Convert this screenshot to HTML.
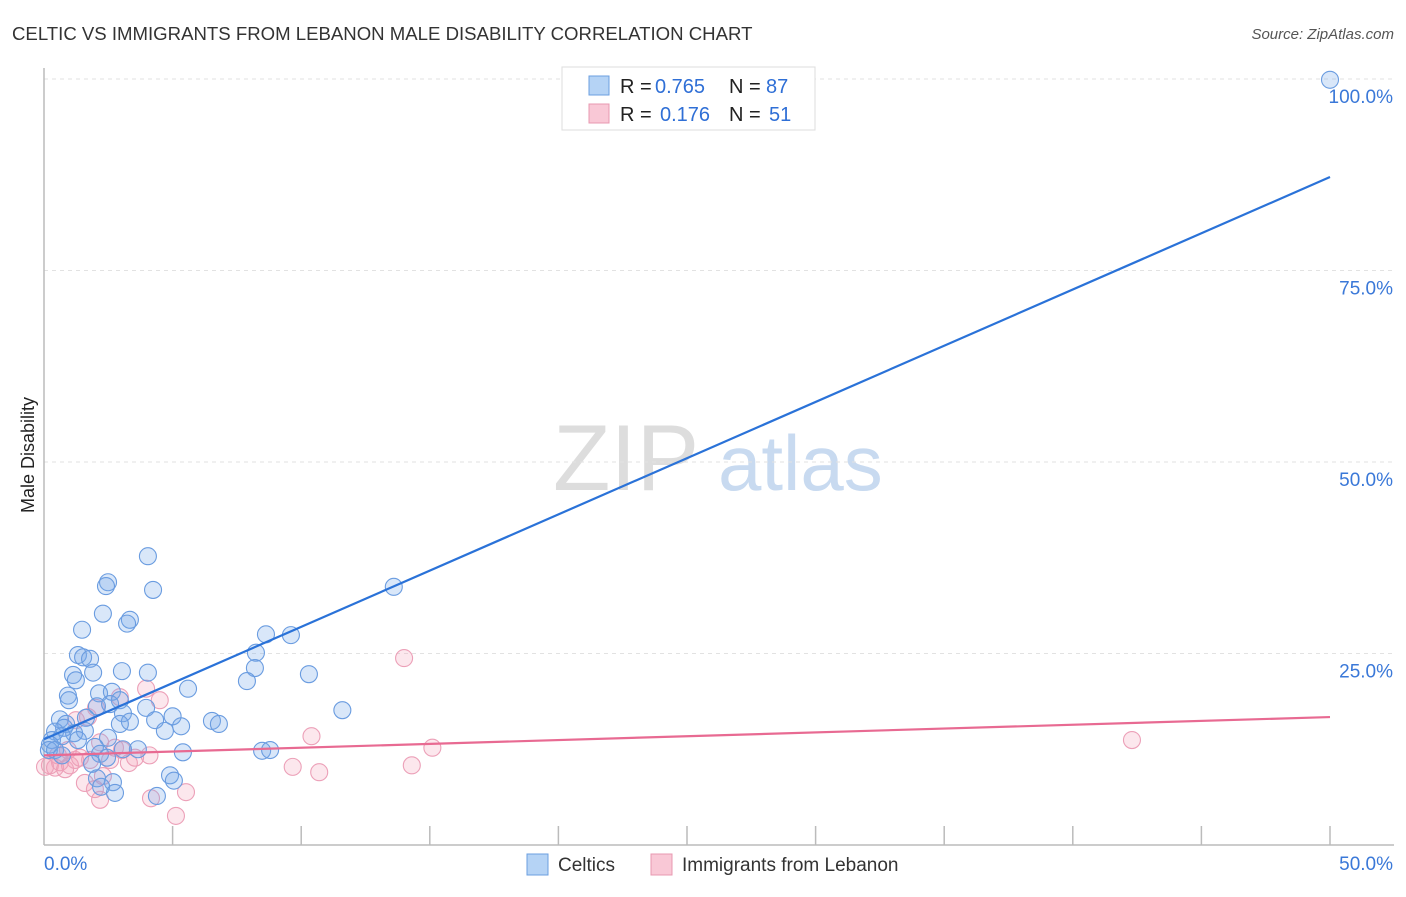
<!DOCTYPE html>
<html><head><meta charset="utf-8"><style>
body{margin:0;background:#fff;font-family:"Liberation Sans",sans-serif;}
svg text{font-family:"Liberation Sans",sans-serif;}
</style></head><body>
<svg id="chart" width="1406" height="892">
<text x="12" y="40" font-size="18.6" fill="#333">CELTIC VS IMMIGRANTS FROM LEBANON MALE DISABILITY CORRELATION CHART</text>
<text x="1394" y="39" font-size="15" fill="#555" font-style="italic" text-anchor="end">Source: ZipAtlas.com</text>
<text x="34" y="455" font-size="18" fill="#222" transform="rotate(-90 34 455)" text-anchor="middle">Male Disability</text>
<g><text x="553" y="490" font-size="94" fill="#ddd" font-family="Liberation Serif">ZIP</text><text x="718" y="490" font-size="78" fill="#c8daf0">atlas</text></g>
<g id="grid"></g><g id="axes"></g><g id="pts"></g><g id="trend"></g>
<g>
<rect x="562" y="67" width="253" height="63" fill="#fff" stroke="#ddd"/>
<rect x="589" y="76" width="20" height="19" fill="#b5d3f5" stroke="#6b9fe0"/>
<rect x="589" y="104" width="20" height="19" fill="#f9c8d6" stroke="#e898b0"/>
<text x="620" y="93" font-size="20" fill="#222">R =</text><text x="655" y="93" font-size="20" fill="#2f6fd6">0.765</text>
<text x="729" y="93" font-size="20" fill="#222">N =</text><text x="766" y="93" font-size="20" fill="#2f6fd6">87</text>
<text x="620" y="121" font-size="20" fill="#222">R =</text><text x="660" y="121" font-size="20" fill="#2f6fd6">0.176</text>
<text x="729" y="121" font-size="20" fill="#222">N =</text><text x="769" y="121" font-size="20" fill="#2f6fd6">51</text>
</g>
<g>
<rect x="527" y="854" width="21" height="21" fill="#b5d3f5" stroke="#6b9fe0"/>
<text x="558" y="871" font-size="19" fill="#333">Celtics</text>
<rect x="651" y="854" width="21" height="21" fill="#f9c8d6" stroke="#e898b0"/>
<text x="682" y="871" font-size="19" fill="#333">Immigrants from Lebanon</text>
</g>
</svg>
<script>
const yTicks=[25,50,75,100];
const yTickLabels=["25.0%","50.0%","75.0%","100.0%"];
const xTickLabels=["0.0%","50.0%"];
const blueX=[50,4.04,4.24,2.49,2.41,13.6,2.29,3.34,3.23,1.48,8.63,9.6,8.24,1.32,1.52,1.79,8.2,1.13,1.24,1.91,3.03,4.04,10.3,7.89,5.6,0.93,0.97,2.14,2.64,2.95,2.06,2.57,3.97,11.6,3.07,1.63,5.0,4.32,6.53,6.8,3.34,2.95,0.62,0.86,0.78,5.33,4.7,0.43,1.17,1.59,0.31,0.7,2.49,1.32,0.23,0.19,1.98,3.65,3.07,5.4,8.48,8.79,2.18,2.45,0.43,4.9,5.05,2.68,2.06,2.22,2.76,4.39,1.87,0.7];
const blueY=[99.9,37.7,33.3,34.3,33.8,33.7,30.2,29.4,28.9,28.1,27.5,27.4,25.1,24.8,24.5,24.3,23.1,22.2,21.5,22.5,22.7,22.5,22.3,21.4,20.4,19.5,18.9,19.8,20.0,18.9,18.1,18.4,17.9,17.6,17.2,16.6,16.8,16.3,16.2,15.8,16.1,15.8,16.4,15.8,15.3,15.5,14.9,14.8,14.6,14.9,13.7,14.2,14.0,13.7,13.1,12.4,12.8,12.5,12.5,12.1,12.3,12.4,11.9,11.4,12.4,9.1,8.4,8.2,8.7,7.6,6.8,6.4,10.6,11.7];
const pinkX=[14.0,3.97,4.5,2.95,1.71,1.24,2.02,10.4,15.1,42.3,4.1,3.03,3.3,9.67,10.7,14.3,4.16,5.52,5.13,2.18,1.59,2.29,1.98,0.23,0.43,0.62,0.82,1.01,1.21,1.4,0.54,0.93,1.79,2.57,3.54,0.04,2.18,2.76];
const pinkY=[24.4,20.4,18.9,19.3,16.7,16.3,17.9,14.2,12.7,13.7,11.7,12.4,10.7,10.2,9.5,10.4,6.1,6.9,3.8,5.9,8.1,9.0,7.3,10.4,10.1,10.8,9.9,10.4,11.1,11.4,11.7,12.4,11.1,11.1,11.4,10.2,13.4,12.7];
const blueTrend=[13.8,87.2];
const pinkTrend=[11.7,16.7];
const X0=44,X1=1330,Y0=845,Y1=79;
const sx=v=>X0+v/50*(X1-X0);
const sy=v=>Y0-v/100*(Y0-Y1);
const NS="http://www.w3.org/2000/svg";
function mk(tag,parent,attrs){const e=document.createElementNS(NS,tag);for(const k in attrs)e.setAttribute(k,attrs[k]);document.getElementById(parent).appendChild(e);return e;}
yTicks.forEach((t,i)=>{
 const l=mk('line','grid',{x1:X0,x2:1394,y1:sy(t),y2:sy(t),stroke:'#e2e2e2','stroke-dasharray':'4,4'});
 
 
 const tx=mk('text','grid',{x:1393,y:sy(t)+24,'font-size':19,fill:'#3a78d8','text-anchor':'end'});
 tx.textContent=yTickLabels[i];
 
 
});
const ax=mk('line','axes',{x1:X0,x2:1394,y1:Y0,y2:Y0,stroke:'#bbb','stroke-width':1.5});


const ay=mk('line','axes',{x1:X0,x2:X0,y1:68,y2:Y0,stroke:'#bbb','stroke-width':1.5});


for(let i=1;i<=10;i++){const t=mk('line','axes',{x1:sx(i*5),x2:sx(i*5),y1:826,y2:Y0,stroke:'#bbb','stroke-width':1.5});
 
 }
const xl0=mk('text','axes',{x:44,y:870,'font-size':19,fill:'#3a78d8'});xl0.textContent=xTickLabels[0];


const xl1=mk('text','axes',{x:1393,y:870,'font-size':19,fill:'#3a78d8','text-anchor':'end'});xl1.textContent=xTickLabels[1];


function drawPts(xs,ys,fill,stroke,name){xs.forEach((x,i)=>{const c=mk('circle','pts',{cx:sx(x),cy:sy(ys[i]),r:8.5,fill:fill,stroke:stroke,'stroke-width':1.1});
 
 });}
drawPts(pinkX,pinkY,'rgba(244,160,185,0.25)','#eca0b8','lebanon-point');
drawPts(blueX,blueY,'rgba(120,170,235,0.28)','#6a9ce0','celtics-point');
const bt=mk('line','trend',{x1:sx(0),y1:sy(blueTrend[0]),x2:sx(50),y2:sy(blueTrend[1]),stroke:'#2a72d8','stroke-width':2.2});


const pt=mk('line','trend',{x1:sx(0),y1:sy(pinkTrend[0]),x2:sx(50),y2:sy(pinkTrend[1]),stroke:'#e86a92','stroke-width':2.2});


</script>
</body></html>
